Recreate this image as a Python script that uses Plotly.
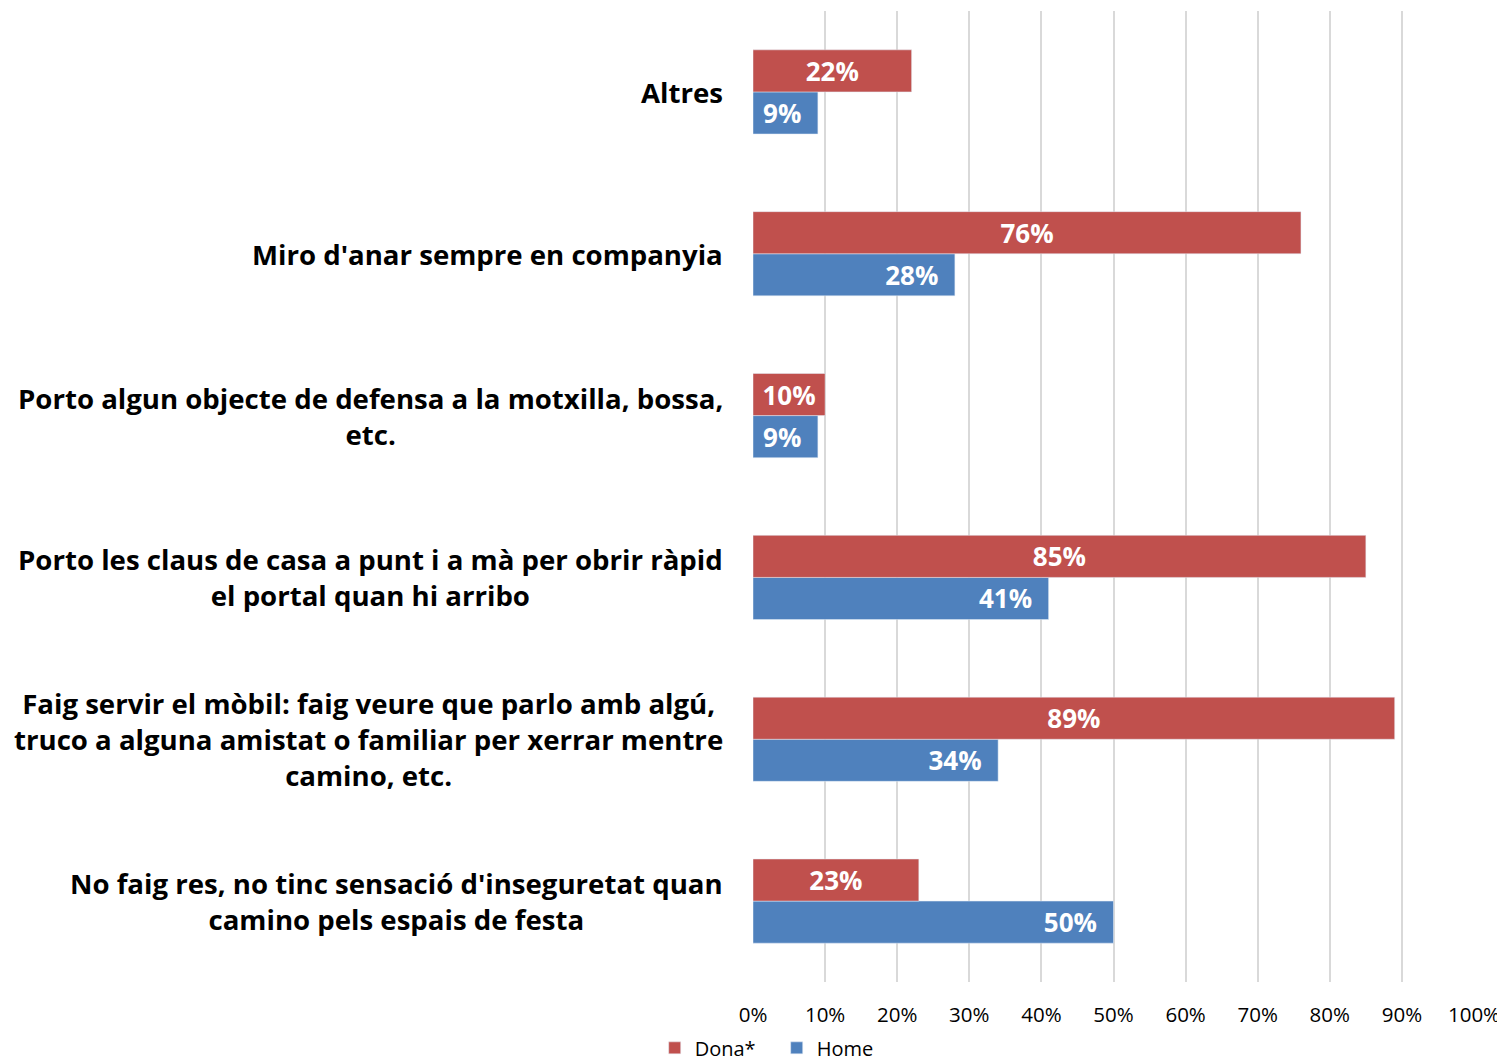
import plotly.graph_objects as go

categories = [
    "No faig res, no tinc sensació d'inseguretat quan<br>camino pels espais de festa",
    "Faig servir el mòbil: faig veure que parlo amb algú,<br>truco a alguna amistat o familiar per xerrar mentre<br>camino, etc.",
    "Porto les claus de casa a punt i a mà per obrir ràpid<br>el portal quan hi arribo",
    "Porto algun objecte de defensa a la motxilla, bossa,<br>etc.",
    "Miro d'anar sempre en companyia",
    "Altres",
]
dona = [0.23, 0.89, 0.85, 0.10, 0.76, 0.22]
home = [0.50, 0.34, 0.41, 0.09, 0.28, 0.09]
x_ticks = [i / 10 for i in range(11)]

FONT = "Open Sans"

fig = go.Figure()
# Home labels sit near the bar end, Dona labels are centred
fig.add_trace(go.Bar(y=categories, x=home, orientation="h", name="Home",
                     marker_color="#4F81BD", legendrank=2,
                     text=[f"{v:.0%}\u00a0\u00a0" for v in home], textposition="inside",
                     insidetextanchor="end",
                     textfont=dict(color="white", size=26, family=FONT, weight="bold")))
fig.add_trace(go.Bar(y=categories, x=dona, orientation="h", name="Dona*",
                     marker_color="#C0504D", legendrank=1,
                     text=[f"{v:.0%}" for v in dona], textposition="inside",
                     insidetextanchor="middle",
                     textfont=dict(color="white", size=26, family=FONT, weight="bold")))

# category labels: right-aligned block, centred lines
for c in categories:
    fig.add_annotation(text=c, x=-0.039, xref="paper", y=c, yref="y",
                       xanchor="right", yanchor="middle", align="center",
                       showarrow=False,
                       font=dict(size=27.6, family=FONT, color="black", weight="bold"))

# the page body adds an 8px offset, margins compensate for it
fig.update_layout(
    width=1505, height=1060,
    barmode="group", bargap=0.48, bargroupgap=0,
    plot_bgcolor="white", paper_bgcolor="white",
    margin=dict(l=745, r=39, t=3, b=86, autoexpand=False),
    font=dict(family=FONT, color="#000000"),
    uniformtext=dict(mode="show", minsize=10),
    legend=dict(orientation="h", x=0.4297, xref="container", xanchor="left",
                y=0.019, yref="container", yanchor="middle",
                font=dict(size=20, family=FONT), itemwidth=30,
                entrywidth=77, entrywidthmode="pixels"),
    showlegend=True,
)
fig.update_xaxes(range=[0, 1], tickvals=x_ticks, tickformat=".0%",
                 showgrid=True, gridcolor="#D9D9D9", gridwidth=1.5,
                 zeroline=False, showline=False, ticks="", automargin=False,
                 tickfont=dict(size=20.5, family=FONT), ticklabelstandoff=18)
fig.update_yaxes(showticklabels=False, showgrid=False, zeroline=False,
                 showline=False, automargin=False)

fig.write_html("out.html")
